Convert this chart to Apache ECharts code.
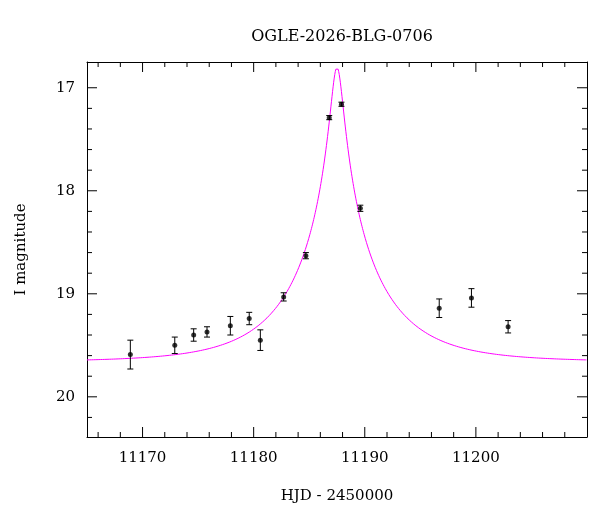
<!DOCTYPE html>
<html><head><meta charset="utf-8">
<script src="https://cdn.jsdelivr.net/npm/echarts@6/dist/echarts.min.js"></script>
<style>html,body{margin:0;padding:0;background:#fff}#c{width:600px;height:512px}</style>
</head><body><div id="c"></div>
<script>
var hjd = [11168.9,11172.9,11174.6,11175.8,11177.9,11179.6,11180.6,11182.7,11184.7,11186.8,11187.9,11189.6,11196.7,11199.6,11202.9];
var mag = [19.59,19.50,19.40,19.37,19.31,19.24,19.45,19.03,18.63,17.29,17.16,18.17,19.14,19.04,19.32];
var err = [0.14,0.08,0.06,0.05,0.09,0.06,0.10,0.04,0.03,0.02,0.02,0.03,0.09,0.09,0.06];
var xTickLabels = [11170, 11180, 11190, 11200];
var yTickLabels = [17, 18, 19, 20];
// Paczynski model parameters
var t0 = 11187.5, tE = 7.5, u0 = 0.072, baseMag = 19.66;
var model = [];
for (var t = 11165; t <= 11210.001; t += 0.05) {
  var tau = (t - t0) / tE, u = Math.sqrt(u0*u0 + tau*tau);
  var A = (u*u + 2) / (u * Math.sqrt(u*u + 4));
  model.push([t, baseMag - 2.5*Math.log10(A)]);
}
var F = 'DejaVu Serif';
var ch = echarts.init(document.getElementById('c'));
var axBase = {axisLine:{lineStyle:{color:'#000'}}, splitLine:{show:false}, axisTick:{show:false}, axisLabel:{show:false}};
ch.setOption({
  animation:false,
  title:{text:'OGLE-2026-BLG-0706', left:337, top:24, textAlign:'center', textStyle:{fontFamily:F, fontSize:16, fontWeight:'normal', color:'#000'}},
  grid:{left:87, right:13, top:62, bottom:75},
  xAxis:[
    Object.assign({type:'value', min:11165, max:11210, position:'bottom',
      name:'HJD - 2450000', nameLocation:'middle', nameGap:52, nameTextStyle:{fontFamily:F, fontSize:15, color:'#000'}}, axBase),
    Object.assign({type:'value', min:11165, max:11210, position:'top'}, axBase)
  ],
  yAxis:[
    Object.assign({type:'value', inverse:true, min:16.75, max:20.39, position:'left',
      name:'I magnitude', nameLocation:'middle', nameGap:58, nameTextStyle:{fontFamily:F, fontSize:15, color:'#000'}}, axBase),
    Object.assign({type:'value', inverse:true, min:16.75, max:20.39, position:'right'}, axBase)
  ],
  series:[
    {type:'line', data:model, showSymbol:false, symbol:'none', lineStyle:{color:'#ff00ff', width:1}, z:2},
    {type:'custom', z:3, renderItem:function(p, api){
      var x = api.value(0), y = api.value(1), e = api.value(2);
      var a = api.coord([x, y-e]), b = api.coord([x, y+e]);
      var s = {stroke:'#000', lineWidth:1};
      return {type:'group', children:[
        {type:'line', shape:{x1:a[0],y1:a[1],x2:b[0],y2:b[1]}, style:s},
        {type:'line', shape:{x1:a[0]-3,y1:a[1],x2:a[0]+3,y2:a[1]}, style:s},
        {type:'line', shape:{x1:b[0]-3,y1:b[1],x2:b[0]+3,y2:b[1]}, style:s}
      ]};
    }, data:hjd.map(function(t,i){return [t, mag[i], err[i]];})},
    {type:'scatter', z:4, symbolSize:5, itemStyle:{color:'#000'}, data:hjd.map(function(t,i){return [t, mag[i]];})},
    {type:'custom', z:1, silent:true, renderItem:function(p, api){
      if (p.dataIndex !== 0) return null;
      var r = p.coordSys, c=[], st={stroke:'#000',lineWidth:1};
      for (var m=17; m<=20.2+1e-9; m+=0.2) {
        var mm = Math.round(m*10)/10, y = api.coord([11165, mm])[1];
        var major = Math.abs(mm-Math.round(mm))<1e-6, L = major?10:5;
        c.push({type:'line', shape:{x1:r.x,y1:y,x2:r.x+L,y2:y}, style:st});
        c.push({type:'line', shape:{x1:r.x+r.width,y1:y,x2:r.x+r.width-L,y2:y}, style:st});
      }
      yTickLabels.forEach(function(v){
        var y = api.coord([11165, v])[1];
        c.push({type:'text', x:r.x-12, y:y, style:{text:String(v), fontFamily:F, fontSize:15, fill:'#000', align:'right', verticalAlign:'middle'}});
      });
      for (var t=11166; t<=11208; t+=2) {
        var x = api.coord([t, 17])[0], maj = t%10===0, L2 = maj?10:5;
        c.push({type:'line', shape:{x1:x,y1:r.y+r.height,x2:x,y2:r.y+r.height-L2}, style:st});
        c.push({type:'line', shape:{x1:x,y1:r.y,x2:x,y2:r.y+L2}, style:st});
      }
      xTickLabels.forEach(function(v){
        var x = api.coord([v, 17])[0];
        c.push({type:'text', x:x, y:r.y+r.height+14, style:{text:String(v), fontFamily:F, fontSize:15, fill:'#000', align:'center', verticalAlign:'top'}});
      });
      return {type:'group', children:c};
    }, data:[[11165,17]]}
  ]
});
</script></body></html>
